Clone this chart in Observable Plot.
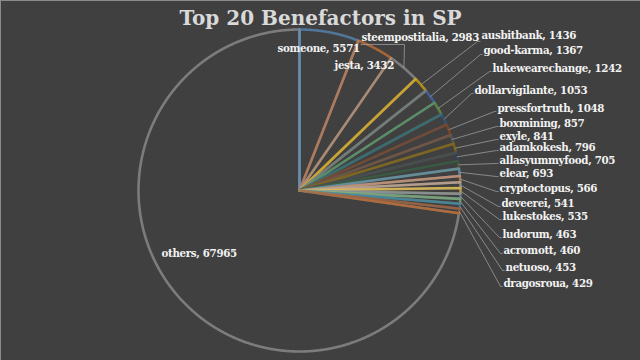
<!DOCTYPE html>
<html><head><meta charset="utf-8">
<script src="https://cdn.jsdelivr.net/npm/d3@7"></script>
<script src="https://cdn.jsdelivr.net/npm/@observablehq/plot@0.6"></script>
<style>html,body{margin:0;padding:0;background:#404040;overflow:hidden}
.lbl text{letter-spacing:-0.35px}</style>
</head><body><div id="chart"></div>
<script>
// ---- data ----
const title = "Top 20 Benefactors in SP";
const names = ["someone","jesta","steempostitalia","ausbitbank","good-karma","lukewearechange","dollarvigilante","pressfortruth","boxmining","exyle","adamkokesh","allasyummyfood","elear","cryptoctopus","deveerei","lukestokes","ludorum","acromott","netuoso","dragosroua","others"];
const values = [5571,3432,2983,1436,1367,1242,1053,1048,857,841,796,705,693,566,541,535,463,460,453,429,67965];
const colors = ["#5B9BD5","#ED7D31","#A5A5A5","#FFC000","#4472C4","#70AD47","#255E91","#9E480E","#636363","#997300","#264478","#43682B","#7CAFDD","#F1975A","#B7B7B7","#FFCD33","#698ED0","#8CC168","#327DC2","#D26012","#A5A5A5"];

// ---- label layout (pixels) ----
const labelLeft = [277,334,361,481,483,492,474,497,499,499,499,499,499,499,501,502,502,503,505,503,161];
const labelMid  = [48,65,37,35,50,68,90,108,123,136,147,160,173,188,203,216,234,250,267,283,253];
const leaderEndX = [null,null,404,477,480,489,471,494,496,496,496,496,496,496,498,499,499,500,502,500,null];
const leaderEndY = [null,null,44,41,54,71,93,111,126,139,150,163,176,191,206,219,237,253,270,286,null];

// ---- geometry ----
const W = 640, H = 360, CX = 299, CY = 190, R = 161;
const toX = px => (px - CX) / R, toY = py => (CY - py) / R;

const arcs = d3.pie().sort(null).value(d => d)(values);
const outline = [];
arcs.forEach((a, i) => {
  const n = Math.max(4, Math.ceil((a.endAngle - a.startAngle) / (Math.PI / 720)));
  outline.push({s: i, x: 0, y: 0});
  for (let k = 0; k <= n; k++) {
    const t = a.startAngle + (a.endAngle - a.startAngle) * k / n;
    outline.push({s: i, x: Math.sin(t), y: Math.cos(t)});
  }
  outline.push({s: i, x: 0, y: 0});
});
const order = [20, ...d3.range(20)];
const outlineSorted = order.flatMap(i => outline.filter(d => d.s === i));

const labels = names.map((n, i) => ({text: `${n}, ${values[i]}`, x: toX(labelLeft[i]), y: toY(labelMid[i])}));
const leaders = arcs.map((a, i) => {
  if (leaderEndX[i] == null) return null;
  const m = (a.startAngle + a.endAngle) / 2;
  return {x1: Math.sin(m), y1: Math.cos(m), x2: toX(leaderEndX[i]), y2: toY(leaderEndY[i]), x3: toX(labelLeft[i] - 1)};
}).filter(d => d);

const font = "'DejaVu Serif', 'Liberation Serif', serif";
const chart = Plot.plot({
  width: W, height: H,
  marginTop: 0, marginRight: 0, marginBottom: 0, marginLeft: 0,
  style: {background: "#404040", overflow: "visible"},
  x: {domain: [toX(0), toX(W)], range: [0, W], axis: null},
  y: {domain: [toY(H), toY(0)], range: [H, 0], axis: null},
  color: {type: "identity"},
  marks: [
    Plot.frame({stroke: "#8c8c8c"}),
    Plot.line(outlineSorted, {x: "x", y: "y", z: "s", stroke: d => colors[d.s], strokeWidth: 2.6, strokeOpacity: 0.6, strokeLinejoin: "round", curve: "linear"}),
    Plot.link(leaders, {x1: "x1", y1: "y1", x2: "x2", y2: "y2", stroke: "#9a9a9a", strokeWidth: 0.8}),
    Plot.link(leaders, {x1: "x2", y1: "y2", x2: "x3", y2: "y2", stroke: "#9a9a9a", strokeWidth: 0.8}),
    Plot.text(labels, {x: "x", y: "y", text: "text", textAnchor: "start", lineAnchor: "middle", fontSize: 10.3, fontWeight: "bold", fontFamily: font, fill: "#f2f2f2", className: "lbl"}),
    Plot.text([title], {frameAnchor: "top", dy: 18, lineAnchor: "middle", fontSize: 20, fontWeight: "bold", fontFamily: font, fill: "#d9d9d9"})
  ]
});
document.getElementById("chart").appendChild(chart);
</script>
</body></html>
